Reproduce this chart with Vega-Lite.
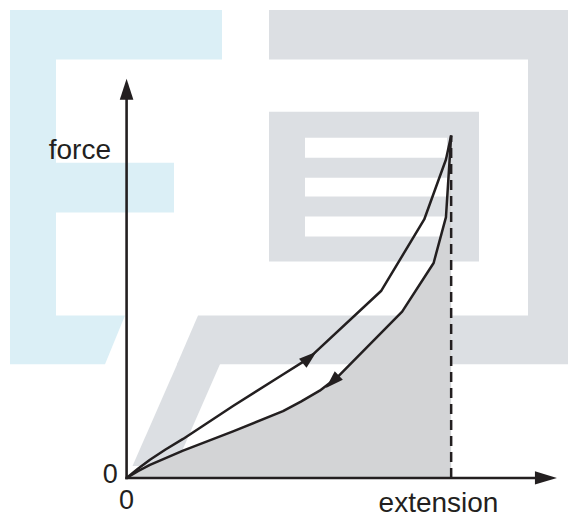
{
  "$schema": "https://vega.github.io/schema/vega-lite/v6.json",
  "width": 568,
  "height": 518,
  "autosize": {"type": "fit", "contains": "padding"},
  "padding": 0,
  "background": "white",
  "config": {
    "view": {"stroke": null},
    "axis": {"disable": true},
    "text": {"font": "Liberation Sans", "color": "#231f20"}
  },
  "datasets": {
    "logoBlocks": [
      {"tone": "blue", "x0": 10, "x1": 222, "y0": 10, "y1": 59.5},
      {"tone": "blue", "x0": 10, "x1": 56, "y0": 59, "y1": 317},
      {"tone": "blue", "x0": 55.5, "x1": 174, "y0": 163, "y1": 213},
      {"tone": "gray", "x0": 269, "x1": 568, "y0": 10, "y1": 59.5},
      {"tone": "gray", "x0": 528, "x1": 568, "y0": 59, "y1": 317},
      {"tone": "gray", "x0": 269, "x1": 479, "y0": 112, "y1": 262}
    ],
    "logoStripes": [
      {"x0": 305, "x1": 447, "y0": 138, "y1": 158},
      {"x0": 305, "x1": 447, "y0": 178, "y1": 197},
      {"x0": 305, "x1": 447, "y0": 217, "y1": 237}
    ],
    "logoSlants": [
      {"piece": "blueFoot", "tone": "blue", "yy": 316, "xa": 10, "xb": 125},
      {"piece": "blueFoot", "tone": "blue", "yy": 365, "xa": 10, "xb": 105},
      {"piece": "grayBand", "tone": "gray", "yy": 316, "xa": 198, "xb": 568},
      {"piece": "grayBand", "tone": "gray", "yy": 365, "xa": 177, "xb": 568},
      {"piece": "grayLeg", "tone": "gray", "yy": 363, "xa": 178, "xb": 220.8},
      {"piece": "grayLeg", "tone": "gray", "yy": 467, "xa": 132.5, "xb": 175.5}
    ],
    "loop": [
      {"path": "loading", "extension": 0, "force": 0},
      {"path": "loading", "extension": 3.5, "force": 2.7},
      {"path": "loading", "extension": 7.2, "force": 5.3},
      {"path": "loading", "extension": 12, "force": 8.3},
      {"path": "loading", "extension": 17.4, "force": 11.4},
      {"path": "loading", "extension": 32.8, "force": 21.0},
      {"path": "loading", "extension": 48.3, "force": 30.3},
      {"path": "loading", "extension": 56.2, "force": 35.0},
      {"path": "loading", "extension": 78.4, "force": 54.6},
      {"path": "loading", "extension": 91.7, "force": 75.5},
      {"path": "loading", "extension": 98.4, "force": 93.0},
      {"path": "loading", "extension": 100, "force": 100},
      {"path": "unloading", "extension": 0, "force": 0},
      {"path": "unloading", "extension": 3.5, "force": 2.0},
      {"path": "unloading", "extension": 7.2, "force": 3.8},
      {"path": "unloading", "extension": 17.4, "force": 8.0},
      {"path": "unloading", "extension": 32.8, "force": 13.6},
      {"path": "unloading", "extension": 48.2, "force": 19.5},
      {"path": "unloading", "extension": 53.7, "force": 22.3},
      {"path": "unloading", "extension": 59.5, "force": 25.5},
      {"path": "unloading", "extension": 64.9, "force": 29.4},
      {"path": "unloading", "extension": 84.9, "force": 48.6},
      {"path": "unloading", "extension": 94.6, "force": 62.8},
      {"path": "unloading", "extension": 98.4, "force": 76.2},
      {"path": "unloading", "extension": 100, "force": 100}
    ]
  },
  "layer": [
    {
      "layer": [
        {
          "data": {"name": "logoBlocks"},
          "mark": {"type": "rect"},
          "encoding": {
            "x": {"field": "x0", "type": "quantitative", "scale": {"domain": [0, 568], "nice": false, "zero": false}},
            "x2": {"field": "x1"},
            "y": {"field": "y0", "type": "quantitative", "scale": {"domain": [0, 518], "reverse": true, "nice": false, "zero": false}},
            "y2": {"field": "y1"},
            "color": {"field": "tone", "type": "nominal", "legend": null,
              "scale": {"domain": ["blue", "gray"], "range": ["#dbeff6", "#dcdfe3"]}}
          }
        },
        {
          "data": {"name": "logoSlants"},
          "mark": {"type": "area", "orient": "horizontal"},
          "encoding": {
            "y": {"field": "yy", "type": "quantitative"},
            "x": {"field": "xa", "type": "quantitative"},
            "x2": {"field": "xb"},
            "detail": {"field": "piece"},
            "color": {"field": "tone", "type": "nominal", "legend": null}
          }
        },
        {
          "data": {"name": "logoStripes"},
          "mark": {"type": "rect", "color": "#ffffff"},
          "encoding": {
            "x": {"field": "x0", "type": "quantitative"},
            "x2": {"field": "x1"},
            "y": {"field": "y0", "type": "quantitative"},
            "y2": {"field": "y1"}
          }
        }
      ]
    },
    {
      "layer": [
        {
          "data": {"name": "loop"},
          "transform": [{"filter": "datum.path === 'unloading'"}],
          "mark": {"type": "area", "color": "#d3d4d6"},
          "encoding": {
            "x": {"field": "extension", "type": "quantitative", "scale": {"domain": [-39, 136], "nice": false, "zero": false}},
            "y": {"field": "force", "type": "quantitative", "scale": {"domain": [-11.4, 139.6], "nice": false, "zero": false}},
            "y2": {"datum": 0}
          }
        },
        {
          "data": {"values": [{}]},
          "mark": {"type": "rule", "color": "#231f20", "strokeWidth": 2.5, "strokeDash": [10, 6]},
          "encoding": {
            "x": {"datum": 100, "type": "quantitative"},
            "y": {"datum": 0, "type": "quantitative"},
            "y2": {"datum": 100}
          }
        },
        {
          "data": {"name": "loop"},
          "mark": {"type": "line", "color": "#231f20", "strokeWidth": 2.5, "strokeJoin": "round"},
          "encoding": {
            "x": {"field": "extension", "type": "quantitative"},
            "y": {"field": "force", "type": "quantitative"},
            "detail": {"field": "path"}
          }
        },
        {
          "data": {"values": [{}]},
          "mark": {"type": "point", "shape": "M0,-1L0.65,1L-0.65,1Z", "filled": true, "opacity": 1, "color": "#231f20", "strokeWidth": 0, "size": 320, "angle": 50},
          "encoding": {
            "x": {"datum": 56.4, "type": "quantitative"},
            "y": {"datum": 35.2, "type": "quantitative"}
          }
        },
        {
          "data": {"values": [{}]},
          "mark": {"type": "point", "shape": "M0,-1L0.65,1L-0.65,1Z", "filled": true, "opacity": 1, "color": "#231f20", "strokeWidth": 0, "size": 320, "angle": 226},
          "encoding": {
            "x": {"datum": 63.4, "type": "quantitative"},
            "y": {"datum": 28.1, "type": "quantitative"}
          }
        },
        {
          "data": {"values": [{}]},
          "mark": {"type": "rule", "color": "#231f20", "strokeWidth": 2.6, "strokeCap": "square"},
          "encoding": {
            "x": {"datum": 0, "type": "quantitative"},
            "x2": {"datum": 126.4},
            "y": {"datum": 0, "type": "quantitative"}
          }
        },
        {
          "data": {"values": [{}]},
          "mark": {"type": "rule", "color": "#231f20", "strokeWidth": 2.6, "strokeCap": "square"},
          "encoding": {
            "x": {"datum": 0, "type": "quantitative"},
            "y": {"datum": 0, "type": "quantitative"},
            "y2": {"datum": 111}
          }
        },
        {
          "data": {"values": [{}]},
          "mark": {"type": "point", "shape": "M0,-1L0.65,1L-0.65,1Z", "filled": true, "opacity": 1, "color": "#231f20", "strokeWidth": 0, "size": 441, "angle": 0},
          "encoding": {
            "x": {"datum": 0, "type": "quantitative"},
            "y": {"datum": 113.5, "type": "quantitative"}
          }
        },
        {
          "data": {"values": [{}]},
          "mark": {"type": "point", "shape": "M0,-1L0.6,1L-0.6,1Z", "filled": true, "opacity": 1, "color": "#231f20", "strokeWidth": 0, "size": 484, "angle": 90},
          "encoding": {
            "x": {"datum": 129.2, "type": "quantitative"},
            "y": {"datum": 0, "type": "quantitative"}
          }
        },
        {
          "data": {"values": [{}]},
          "mark": {"type": "text", "fontSize": 28, "align": "right", "baseline": "alphabetic"},
          "encoding": {
            "x": {"datum": -4.8, "type": "quantitative"},
            "y": {"datum": 93.2, "type": "quantitative"},
            "text": {"value": "force"}
          }
        },
        {
          "data": {"values": [{}]},
          "mark": {"type": "text", "fontSize": 28, "align": "center", "baseline": "alphabetic"},
          "encoding": {
            "x": {"datum": 96.1, "type": "quantitative"},
            "y": {"datum": -9.9, "type": "quantitative"},
            "text": {"value": "extension"}
          }
        },
        {
          "data": {"values": [{}]},
          "mark": {"type": "text", "fontSize": 27, "align": "right", "baseline": "alphabetic"},
          "encoding": {
            "x": {"datum": -2.7, "type": "quantitative"},
            "y": {"datum": -1.6, "type": "quantitative"},
            "text": {"value": "0"}
          }
        },
        {
          "data": {"values": [{}]},
          "mark": {"type": "text", "fontSize": 27, "align": "center", "baseline": "alphabetic"},
          "encoding": {
            "x": {"datum": 0, "type": "quantitative"},
            "y": {"datum": -9.2, "type": "quantitative"},
            "text": {"value": "0"}
          }
        }
      ]
    }
  ],
  "resolve": {"scale": {"x": "independent", "y": "independent", "color": "independent"}}
}
